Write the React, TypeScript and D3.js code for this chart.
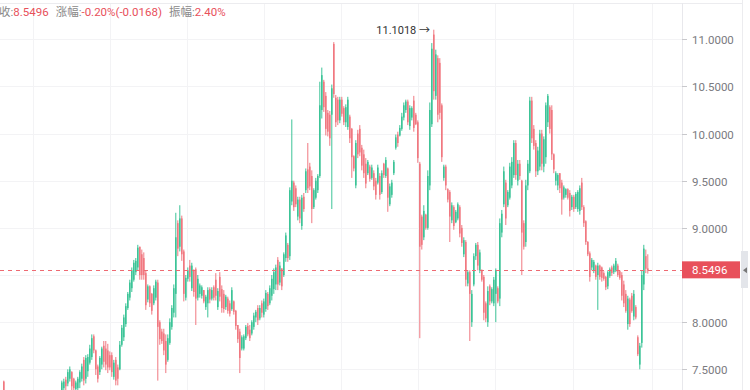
import * as d3 from 'd3';

const W = 750;
const H = 390;
const PLOT_RIGHT = 682;

// [open, high, low, close], one per session
const candles: [number, number, number, number][] = [
  [7.37, 7.38, 7.17, 7.22], [7.22, 7.25, 7.12, 7.15], [7.15, 7.2, 7.08, 7.18], [7.18, 7.24, 7.14, 7.2],
  [7.2, 7.23, 7.1, 7.12], [7.12, 7.15, 7.02, 7.05], [7.05, 7.1, 6.98, 7.08], [7.08, 7.12, 7.0, 7.02],
  [7.02, 7.06, 6.95, 6.98], [6.98, 7.05, 6.94, 7.03], [7.03, 7.1, 7.0, 7.07], [7.07, 7.12, 7.02, 7.04],
  [7.04, 7.08, 6.97, 7.0], [7.0, 7.06, 6.96, 7.05], [7.05, 7.12, 7.03, 7.1], [7.1, 7.14, 7.04, 7.06],
  [7.06, 7.1, 7.0, 7.02], [7.02, 7.08, 6.99, 7.07], [7.07, 7.15, 7.05, 7.13], [7.13, 7.18, 7.08, 7.1],
  [7.1, 7.16, 7.06, 7.15], [7.15, 7.2, 7.1, 7.12], [7.12, 7.17, 7.07, 7.16], [7.16, 7.22, 7.12, 7.2],
  [7.2, 7.24, 7.13, 7.15], [7.15, 7.2, 7.1, 7.18], [7.18, 7.25, 7.15, 7.22], [7.22, 7.26, 7.16, 7.19],
  [7.19, 7.24, 7.14, 7.23],
  // 29
  [7.26, 7.38, 7.24, 7.36], [7.3, 7.4, 7.27, 7.37], [7.39, 7.42, 7.28, 7.32], [7.35, 7.5, 7.32, 7.47],
  [7.4, 7.53, 7.37, 7.5], [7.47, 7.48, 7.28, 7.32], [7.4, 7.41, 7.28, 7.3], [7.29, 7.38, 7.25, 7.36],
  [7.3, 7.42, 7.27, 7.4], [7.36, 7.49, 7.3, 7.47], [7.4, 7.56, 7.37, 7.53], [7.6, 7.63, 7.33, 7.38],
  [7.4, 7.65, 7.35, 7.62], [7.48, 7.66, 7.42, 7.63], [7.57, 7.76, 7.55, 7.72], [7.63, 7.87, 7.6, 7.83],
  [7.85, 7.87, 7.67, 7.7], [7.7, 7.71, 7.44, 7.5], [7.53, 7.55, 7.36, 7.4], [7.47, 7.64, 7.44, 7.62],
  [7.55, 7.74, 7.5, 7.72], [7.75, 7.8, 7.52, 7.58], [7.72, 7.8, 7.49, 7.55], [7.7, 7.77, 7.46, 7.52],
  [7.65, 7.69, 7.49, 7.52], [7.65, 7.68, 7.42, 7.47], [7.42, 7.6, 7.39, 7.57], [7.6, 7.63, 7.33, 7.38],
  [7.52, 7.55, 7.33, 7.4], [7.5, 7.8, 7.49, 7.76], [7.76, 7.97, 7.74, 7.94], [7.84, 8.08, 7.8, 8.05],
  [7.98, 8.2, 7.95, 8.17], [8.15, 8.32, 8.13, 8.3], [8.26, 8.45, 8.23, 8.42], [8.36, 8.58, 8.32, 8.55],
  [8.45, 8.66, 8.43, 8.63], [8.53, 8.68, 8.5, 8.65], [8.58, 8.82, 8.55, 8.79], [8.8, 8.8, 8.45, 8.5],
  [8.72, 8.77, 8.45, 8.5], [8.68, 8.74, 8.45, 8.5], [8.52, 8.55, 8.13, 8.18], [8.24, 8.4, 8.21, 8.38],
  [8.38, 8.39, 8.16, 8.2], [8.3, 8.31, 8.08, 8.12], [8.2, 8.39, 8.18, 8.36], [8.26, 8.45, 8.23, 8.43],
  [8.42, 8.45, 7.38, 7.95], [8.0, 8.02, 7.76, 7.82], [7.9, 7.93, 7.77, 7.8], [7.88, 7.93, 7.65, 7.7],
  [7.8, 7.87, 7.46, 7.55], [7.6, 7.87, 7.58, 7.83], [7.78, 8.04, 7.76, 8.0], [7.95, 8.18, 7.92, 8.15],
  [8.1, 8.4, 8.05, 8.36], [8.3, 9.16, 8.05, 8.9], [9.05, 9.08, 8.7, 8.78], [8.8, 9.24, 8.75, 9.1],
  [9.1, 9.13, 8.65, 8.72], [8.75, 8.77, 8.22, 8.3], [8.26, 8.5, 8.23, 8.47], [8.46, 8.58, 8.43, 8.55],
  [8.6, 8.66, 8.43, 8.48], [8.36, 8.63, 8.33, 8.6], [8.55, 8.56, 8.27, 8.32], [8.56, 8.58, 7.97, 8.25],
  [8.26, 8.5, 8.23, 8.46],
  // 98
  [8.3, 8.41, 8.26, 8.39], [8.28, 8.39, 8.25, 8.37], [8.34, 8.34, 8.2, 8.22], [8.16, 8.29, 8.13, 8.27],
  [8.2, 8.37, 8.05, 8.34], [8.35, 8.37, 8.2, 8.24], [8.25, 8.37, 8.23, 8.34], [8.37, 8.39, 8.23, 8.26],
  [8.45, 8.52, 8.23, 8.28], [8.16, 8.36, 8.13, 8.33], [8.48, 8.53, 8.22, 8.27], [8.35, 8.39, 8.1, 8.15],
  [8.3, 8.34, 8.1, 8.14], [8.16, 8.29, 8.13, 8.27], [8.25, 8.27, 8.09, 8.12], [8.2, 8.23, 8.06, 8.09],
  [8.14, 8.37, 8.12, 8.34], [8.22, 8.23, 8.08, 8.11], [8.12, 8.13, 7.92, 7.96], [7.97, 7.97, 7.78, 7.82],
  [7.9, 7.93, 7.46, 7.62], [7.72, 7.86, 7.7, 7.84], [7.72, 7.87, 7.7, 7.85], [7.83, 7.97, 7.81, 7.95],
  [7.96, 7.99, 7.85, 7.87], [7.92, 7.97, 7.8, 7.83], [7.88, 8.02, 7.86, 8.0], [7.95, 8.1, 7.92, 8.07],
  [8.05, 8.13, 8.0, 8.11], [8.15, 8.18, 7.97, 8.02], [8.04, 8.18, 8.02, 8.15], [8.2, 8.23, 8.05, 8.1],
  [8.08, 8.25, 8.05, 8.22], [8.14, 8.34, 8.11, 8.31], [8.3, 8.32, 8.13, 8.17], [8.2, 8.39, 8.18, 8.36],
  [8.28, 8.5, 8.23, 8.46], [8.35, 8.57, 8.3, 8.53],
  // 136
  [8.4, 8.61, 8.34, 8.58], [8.66, 8.69, 8.34, 8.4], [8.42, 8.64, 8.39, 8.6], [8.57, 8.57, 8.34, 8.38],
  [8.5, 8.74, 8.48, 8.72], [8.68, 8.95, 8.64, 8.92], [8.82, 8.84, 8.64, 8.68], [8.7, 9.43, 8.66, 9.4],
  [9.28, 10.15, 9.24, 9.5], [9.48, 9.5, 9.18, 9.22], [9.42, 9.45, 9.22, 9.25], [9.12, 9.33, 9.08, 9.3],
  [9.3, 9.33, 9.05, 9.1], [9.02, 9.35, 8.98, 9.32], [9.33, 9.37, 9.17, 9.2], [9.4, 9.63, 9.37, 9.6],
  [9.62, 9.9, 9.37, 9.42], [9.65, 9.69, 9.4, 9.44], [9.55, 9.61, 9.05, 9.2], [9.22, 9.42, 9.2, 9.4],
  [9.32, 9.53, 9.3, 9.5], [9.4, 9.57, 9.37, 9.55], [9.55, 10.55, 9.53, 10.3], [10.25, 10.7, 10.16, 10.62],
  [10.55, 10.57, 10.23, 10.28], [10.4, 10.44, 9.98, 10.05], [10.22, 10.25, 9.97, 10.02], [10.2, 10.24, 9.87, 9.95],
  [10.2, 10.52, 9.2, 10.48], [10.95, 10.97, 10.38, 10.42], [10.38, 10.41, 10.07, 10.12], [10.36, 10.39, 10.09, 10.14],
  [10.14, 10.39, 10.11, 10.36], [10.36, 10.39, 10.18, 10.21], [10.27, 10.29, 10.09, 10.12], [10.12, 10.31, 10.07, 10.28],
  [10.07, 10.39, 10.04, 10.36], [10.18, 10.2, 9.9, 9.95], [10.05, 10.06, 9.53, 9.75], [9.76, 9.77, 9.6, 9.63],
  [9.45, 9.93, 9.42, 9.9], [10.0, 10.04, 9.74, 9.78], [10.05, 10.09, 9.76, 9.8], [9.85, 9.88, 9.61, 9.66],
  [9.78, 9.83, 9.53, 9.58], [9.68, 9.74, 9.42, 9.47], [9.58, 9.72, 9.56, 9.7], [9.65, 9.67, 9.49, 9.52],
  [9.53, 9.67, 9.51, 9.64], [9.58, 9.61, 9.4, 9.44], [9.5, 9.53, 9.3, 9.35], [9.48, 9.67, 9.46, 9.64],
  [9.55, 9.58, 9.3, 9.35], [9.38, 9.61, 9.36, 9.58], [9.68, 9.69, 9.53, 9.56], [9.55, 9.75, 9.53, 9.72],
  [9.63, 9.64, 9.17, 9.32], [9.25, 9.47, 9.23, 9.44], [9.35, 9.51, 9.32, 9.48], [9.58, 9.72, 9.56, 9.7],
  [9.85, 9.99, 9.83, 9.96], [9.99, 10.02, 9.86, 9.9], [9.98, 10.09, 9.97, 10.06], [10.05, 10.22, 10.03, 10.18],
  [10.17, 10.33, 10.14, 10.3], [10.25, 10.36, 10.22, 10.34], [10.34, 10.36, 10.09, 10.12], [10.08, 10.3, 10.04, 10.27],
  [10.17, 10.29, 10.14, 10.27], [10.35, 10.4, 10.02, 10.06], [10.2, 10.22, 10.09, 10.1], [10.12, 10.14, 9.69, 9.74],
  [9.68, 9.7, 7.83, 8.8], [9.12, 9.14, 8.77, 8.82], [8.9, 9.24, 8.87, 9.18], [9.14, 9.15, 8.98, 9.0],
  [9.0, 9.61, 8.98, 9.55], [9.45, 10.33, 9.4, 10.25], [10.1, 10.96, 10.07, 10.9], [11.05, 11.1018, 10.36, 10.45],
  [10.4, 10.89, 10.36, 10.84], [10.8, 10.83, 10.12, 10.2], [10.75, 10.8, 10.15, 10.22], [10.3, 10.32, 9.7, 9.75],
  // 220
  [9.53, 9.67, 9.5, 9.65], [9.65, 9.67, 9.4, 9.45], [9.41, 9.42, 9.27, 9.3], [9.38, 9.4, 8.85, 9.12],
  [9.08, 9.27, 9.05, 9.24], [9.22, 9.24, 8.98, 9.02], [9.06, 9.19, 9.05, 9.17], [9.1, 9.27, 9.08, 9.25],
  [9.22, 9.24, 8.9, 8.94], [9.0, 9.03, 8.8, 8.84], [8.72, 8.9, 8.69, 8.87], [8.85, 8.87, 8.38, 8.45],
  [8.41, 8.55, 8.38, 8.53], [8.53, 8.55, 7.8, 8.3], [8.0, 8.34, 7.95, 8.3], [8.4, 8.73, 8.38, 8.7],
  [8.7, 8.84, 8.66, 8.82], [8.82, 8.85, 8.55, 8.6], [8.55, 8.77, 8.52, 8.74], [8.55, 8.56, 8.43, 8.45],
  [8.48, 8.5, 8.02, 8.1], [8.2, 8.22, 8.0, 8.04], [8.0, 8.38, 7.95, 8.33], [8.38, 8.4, 8.18, 8.22],
  [8.22, 8.37, 8.2, 8.35], [8.2, 8.48, 8.17, 8.45], [8.3, 8.57, 8.0, 8.55], [8.36, 8.38, 8.2, 8.22],
  [8.25, 9.1, 8.17, 9.05], [8.95, 9.19, 8.9, 9.15], [9.25, 9.65, 9.22, 9.6], [9.48, 9.51, 9.03, 9.1],
  [9.24, 9.4, 9.22, 9.38], [9.32, 9.69, 9.3, 9.65], [9.45, 9.75, 9.42, 9.7], [9.56, 9.93, 9.53, 9.9],
  [9.9, 9.93, 9.51, 9.56], [9.5, 9.72, 9.45, 9.68], [9.68, 9.72, 9.51, 9.55], [9.5, 9.51, 8.5, 8.95],
  [9.05, 9.08, 8.77, 8.8], [8.85, 9.51, 8.8, 9.45], [9.45, 9.72, 9.4, 9.68], [9.6, 10.39, 9.58, 10.35],
  [10.35, 10.39, 9.9, 9.95], [10.05, 10.09, 9.83, 9.87], [9.9, 9.93, 9.54, 9.6], [9.6, 9.86, 9.56, 9.82],
  [9.65, 10.04, 9.61, 10.0], [10.0, 10.04, 9.61, 9.68], [9.65, 9.97, 9.59, 9.94], [9.75, 10.33, 9.68, 10.3],
  [10.12, 10.42, 10.07, 10.4], [10.28, 10.3, 10.0, 10.05], [10.25, 10.3, 9.72, 9.78], [9.78, 9.79, 9.58, 9.62],
  [9.5, 9.6, 9.45, 9.58], [9.45, 9.58, 9.4, 9.56], [9.58, 9.58, 9.37, 9.42], [9.48, 9.51, 9.14, 9.3],
  [9.32, 9.45, 9.3, 9.43], [9.35, 9.42, 9.32, 9.41], [9.41, 9.42, 9.3, 9.32], [9.37, 9.4, 9.12, 9.18],
  [9.22, 9.35, 9.19, 9.33], [9.33, 9.35, 9.17, 9.2], [9.22, 9.38, 9.2, 9.36], [9.2, 9.4, 9.17, 9.38],
  [9.18, 9.45, 9.14, 9.42], [9.48, 9.53, 9.19, 9.22], [9.22, 9.24, 9.01, 9.05], [9.07, 9.08, 8.82, 8.85],
  [8.85, 8.86, 8.7, 8.72], [8.73, 8.75, 8.43, 8.48], [8.58, 8.68, 8.55, 8.66], [8.55, 8.66, 8.52, 8.64],
  [8.6, 8.61, 8.45, 8.48], [8.5, 8.63, 8.13, 8.6], [8.6, 8.61, 8.45, 8.48], [8.58, 8.59, 8.43, 8.47],
  [8.52, 8.54, 8.44, 8.46], [8.48, 8.49, 8.34, 8.37], [8.38, 8.55, 8.35, 8.53], [8.49, 8.58, 8.47, 8.56],
  [8.58, 8.6, 8.49, 8.52], [8.53, 8.62, 8.51, 8.6], [8.55, 8.68, 8.53, 8.65], [8.6, 8.62, 8.48, 8.5],
  [8.54, 8.55, 8.45, 8.47], [8.5, 8.53, 8.23, 8.28], [8.4, 8.44, 8.16, 8.2], [8.3, 8.34, 8.1, 8.12],
  [7.98, 8.28, 7.92, 8.25], [8.24, 8.26, 7.95, 7.98], [8.28, 8.31, 8.1, 8.12], [8.06, 8.34, 8.02, 8.3],
  [8.16, 8.18, 8.03, 8.05], [7.84, 7.86, 7.64, 7.66], [7.55, 7.78, 7.5, 7.75], [7.78, 8.55, 7.73, 8.5],
  [8.4, 8.82, 8.34, 8.78], [8.7, 8.77, 8.52, 8.5664], [8.57, 8.72, 8.5144, 8.5496],
];

const yTicks = [7.5, 8.0, 8.5, 9.0, 9.5, 10.0, 10.5, 11.0];
// vertical grid sits on these session positions
const gridSessions = [15, 53.5, 92, 130.5, 169, 207.5, 246, 285, 324.5];
const lastPrice = 8.5496;
const header = [
  { label: '收:', value: '8.5496' },
  { label: '涨幅:', value: '-0.20%(-0.0168)' },
  { label: '振幅:', value: '2.40%' },
];

const UP = '#3cc497';
const DOWN = '#f07880';
const FONT = 'Roboto, "Noto Sans CJK SC", sans-serif';

export default function App() {
  const x = d3.scaleLinear().domain([0, candles.length - 1]).range([3, 647]);
  const y = d3.scaleLinear().domain([7.5, 11]).range([369.3, 39.3]);

  const maxIdx = d3.maxIndex(candles, d => d[1]);
  const maxHigh = candles[maxIdx][1];
  const yLast = y(lastPrice);

  return (
    <>
      <style>{'body{margin:0;background:#fff}'}</style>
      <svg width={W} height={H} style={{ display: 'block', fontFamily: FONT }}>
        <rect width={W} height={H} fill="#fff" />
        <defs>
          <clipPath id="plot">
            <rect x={0} y={4} width={PLOT_RIGHT} height={H - 4} />
          </clipPath>
        </defs>

        {/* grid */}
        <line x1={0} x2={742} y1={3.5} y2={3.5} stroke="#ececef" />
        {yTicks.map(t => (
          <line key={t} x1={0} x2={PLOT_RIGHT} y1={Math.round(y(t)) + 0.5} y2={Math.round(y(t)) + 0.5} stroke="#f3f3f5" />
        ))}
        {gridSessions.map(s => (
          <line key={s} x1={Math.round(x(s)) + 0.5} x2={Math.round(x(s)) + 0.5} y1={4} y2={H} stroke="#f3f3f5" />
        ))}

        {/* candles */}
        <g clipPath="url(#plot)">
          {candles.map(([o, h, l, c], i) => {
            const col = c >= o ? UP : DOWN;
            const cx = x(i);
            const top = y(Math.max(o, c));
            const bot = y(Math.min(o, c));
            return (
              <g key={i}>
                <line x1={cx + 0.8} x2={cx + 0.8} y1={y(h)} y2={y(l)} stroke={col} strokeWidth={1} />
                <rect x={cx} y={top} width={1.6} height={Math.max(bot - top, 1)} fill={col} />
              </g>
            );
          })}
        </g>

        {/* max marker */}
        <text x={x(maxIdx) - 3} y={y(maxHigh) + 4} textAnchor="end" fontSize={11} fill="#333">
          {`${maxHigh.toFixed(4)} →`}
        </text>

        {/* last price line */}
        <line x1={0} x2={PLOT_RIGHT} y1={Math.round(yLast) + 0.5} y2={Math.round(yLast) + 0.5}
          stroke="#ee6a72" strokeDasharray="4,4" />

        {/* right axis */}
        <line x1={PLOT_RIGHT + 0.5} x2={PLOT_RIGHT + 0.5} y1={3} y2={H} stroke="#e8e8ec" />
        {yTicks.map(t => (
          <g key={t} transform={`translate(${PLOT_RIGHT},${Math.round(y(t)) + 0.5})`}>
            <line x1={0} x2={5} stroke="#c8c8cc" />
            {Math.abs(t - lastPrice) > 0.15 && (
              <text x={10} dy="0.35em" fontSize={11.5} fill="#7a7a80">{t.toFixed(4)}</text>
            )}
          </g>
        ))}
        <rect x={PLOT_RIGHT} y={yLast - 9} width={58} height={17} fill="#e8505b" />
        <text x={PLOT_RIGHT + 10} y={yLast} dy="0.35em" fontSize={11.5} fill="#fff">{lastPrice.toFixed(4)}</text>

        {/* right edge strip */}
        <line x1={742.5} x2={742.5} y1={0} y2={H} stroke="#ececef" />
        <rect x={741} y={251} width={7} height={37} fill="#e3e5ea" />
        <path d={`M743,${yLast} L747,${yLast - 3} L747,${yLast + 3} Z`} fill="#777" />

        {/* header */}
        <text x={-1} y={16} fontSize={11.5}>
          {header.map((h, i) => (
            <tspan key={i}>
              <tspan dx={i === 0 ? 0 : 7} fill="#888">{h.label}</tspan>
              <tspan fill="#e8505b">{h.value}</tspan>
            </tspan>
          ))}
        </text>
      </svg>
    </>
  );
}
